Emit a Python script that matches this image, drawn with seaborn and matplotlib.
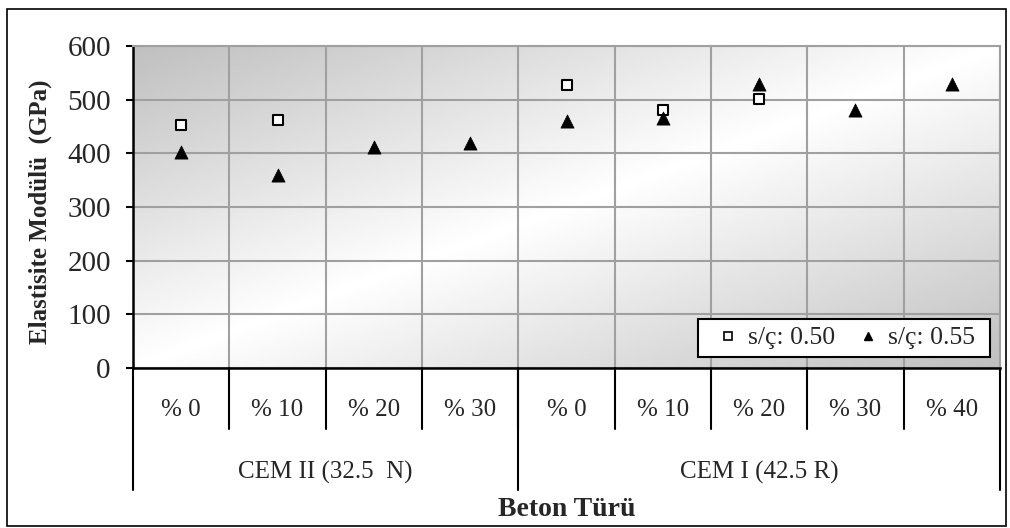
import numpy as np
import pandas as pd
import matplotlib
matplotlib.use("Agg")
import matplotlib.pyplot as plt
import seaborn as sns
from matplotlib.patches import Rectangle
from matplotlib.lines import Line2D

# ---------------- data ----------------
categories = ["% 0", "% 10", "% 20", "% 30", "% 0", "% 10", "% 20", "% 30", "% 40"]
groups = ["CEM II (32.5  N)", "CEM I (42.5 R)"]
group_sizes = [4, 5]
series_names = ["s/ç: 0.50", "s/ç: 0.55"]
values_050 = [453, 462, np.nan, np.nan, 527, 481, 501, np.nan, np.nan]
values_055 = [403, 360, 411, 420, 460, 465, 529, 480, 530]
y_ticks = [0, 100, 200, 300, 400, 500, 600]
y_label = "Elastisite Modülü  (GPa)"
x_label = "Beton Türü"

# ---------------- style ----------------
sns.set_theme(style="white")
plt.rcParams['font.family'] = ['Liberation Serif', 'DejaVu Serif']
FS = 18

W, H = 1010, 528
fig = plt.figure(figsize=(W / 100, H / 100), dpi=100)
L, R, T, B = 133, 1000, 46, 368
pos = [L / W, 1 - B / H, (R - L) / W, (B - T) / H]

# gradient background
bg = fig.add_axes(pos, zorder=0)
ny, nx = 200, 400
u = np.linspace(0, 1, nx)
v = np.linspace(1, 0, ny)
U, V = np.meshgrid(u, v)
s = (U + (1 - V)) / 2
g = 1 - 0.25 * np.abs(2 * s - 1)
bg.imshow(g, cmap='gray', vmin=0, vmax=1, extent=[0, 1, 0, 1], aspect='auto',
          interpolation='bilinear')
bg.set_axis_off()

ax = fig.add_axes(pos, zorder=1)
ax.set_facecolor('none')

# data frame
x_pos = np.arange(len(categories))
df = pd.DataFrame({"pos": x_pos, series_names[0]: values_050, series_names[1]: values_055})
df = df.melt(id_vars="pos", var_name="series", value_name="value").dropna()

sns.scatterplot(data=df[df.series == series_names[0]], x="pos", y="value", marker="s", s=60,
                color="white", edgecolor="black", linewidth=1.5, ax=ax, legend=False, zorder=3)
sns.scatterplot(data=df[df.series == series_names[1]], x="pos", y="value", marker="^", s=90,
                color="black", edgecolor="black", linewidth=0.5, ax=ax, legend=False, zorder=3)

ax.set_xlim(-0.5, len(categories) - 0.5)
ax.set_ylim(0, 600)
ax.set_yticks(y_ticks)
ax.set_xticks(np.arange(-0.5, len(categories), 1))
ax.grid(True, color='#a0a0a0', lw=1.5)
ax.set_axisbelow(True)
ax.tick_params(axis='x', length=0, labelbottom=False)
ax.tick_params(axis='y', length=5, width=1.5, color='black', pad=11, labelsize=21,
               direction='out', left=True)
ax.set_xlabel("")
ax.set_ylabel("")
for sp in ['left', 'bottom']:
    ax.spines[sp].set_color('black')
    ax.spines[sp].set_linewidth(1.8)
for sp in ['top', 'right']:
    ax.spines[sp].set_color('#a0a0a0')
    ax.spines[sp].set_linewidth(1.5)

tr = ax.get_xaxis_transform()
y_lvl1_line = (B - 429) / (B - T)
y_lvl2_line = (B - 490) / (B - T)
y_lvl1_text = (B - 410) / (B - T)
y_lvl2_text = (B - 472) / (B - T)

for i, c in enumerate(categories):
    ax.text(i, y_lvl1_text, c, transform=tr, ha='center', va='center', fontsize=FS)
for b in np.arange(0.5, len(categories) - 1, 1):
    ax.plot([b, b], [0, y_lvl1_line], transform=tr, color='black', lw=1.5, clip_on=False)
edges = np.concatenate([[0], np.cumsum(group_sizes)]) - 0.5
for e in edges:
    ax.plot([e, e], [0, y_lvl2_line], transform=tr, color='black', lw=1.5, clip_on=False)
for gname, a, b in zip(groups, edges[:-1], edges[1:]):
    ax.text((a + b) / 2, y_lvl2_text, gname, transform=tr, ha='center', va='center', fontsize=FS)

fig.text(((L + R) / 2) / W, 1 - 510 / H, x_label, ha='center', va='center',
         fontweight='bold', fontsize=20)
fig.text(40 / W, 1 - 212 / H, y_label, ha='center', va='center', rotation=90,
         fontweight='bold', fontsize=18)

# legend with box
box = Rectangle(((698 - L) / (R - L), (B - 357) / (B - T)), (990 - 698) / (R - L), 38 / (B - T),
                transform=ax.transAxes, facecolor='white', edgecolor='black', lw=1.5,
                zorder=4, clip_on=False)
ax.add_patch(box)
handles = [
    Line2D([], [], marker='s', ls='none', markerfacecolor='white', markeredgecolor='black',
           markersize=5.5, markeredgewidth=1.2),
    Line2D([], [], marker='^', ls='none', markerfacecolor='black', markeredgecolor='black',
           markersize=6),
]
leg = ax.legend(handles, series_names, ncol=2, frameon=False, loc='center',
                bbox_to_anchor=((845 - L) / (R - L), (B - 338) / (B - T)),
                handlelength=1.0, handletextpad=0.3, columnspacing=0.75, fontsize=18.5,
                borderpad=0, borderaxespad=0)
leg.set_zorder(6)

# figure border
fig.patches.append(Rectangle((7 / W, 1 - 526 / H), 999 / W, 517 / H, transform=fig.transFigure,
                             fill=False, ec='black', lw=1.2))

fig.savefig('out.png', dpi=100)
